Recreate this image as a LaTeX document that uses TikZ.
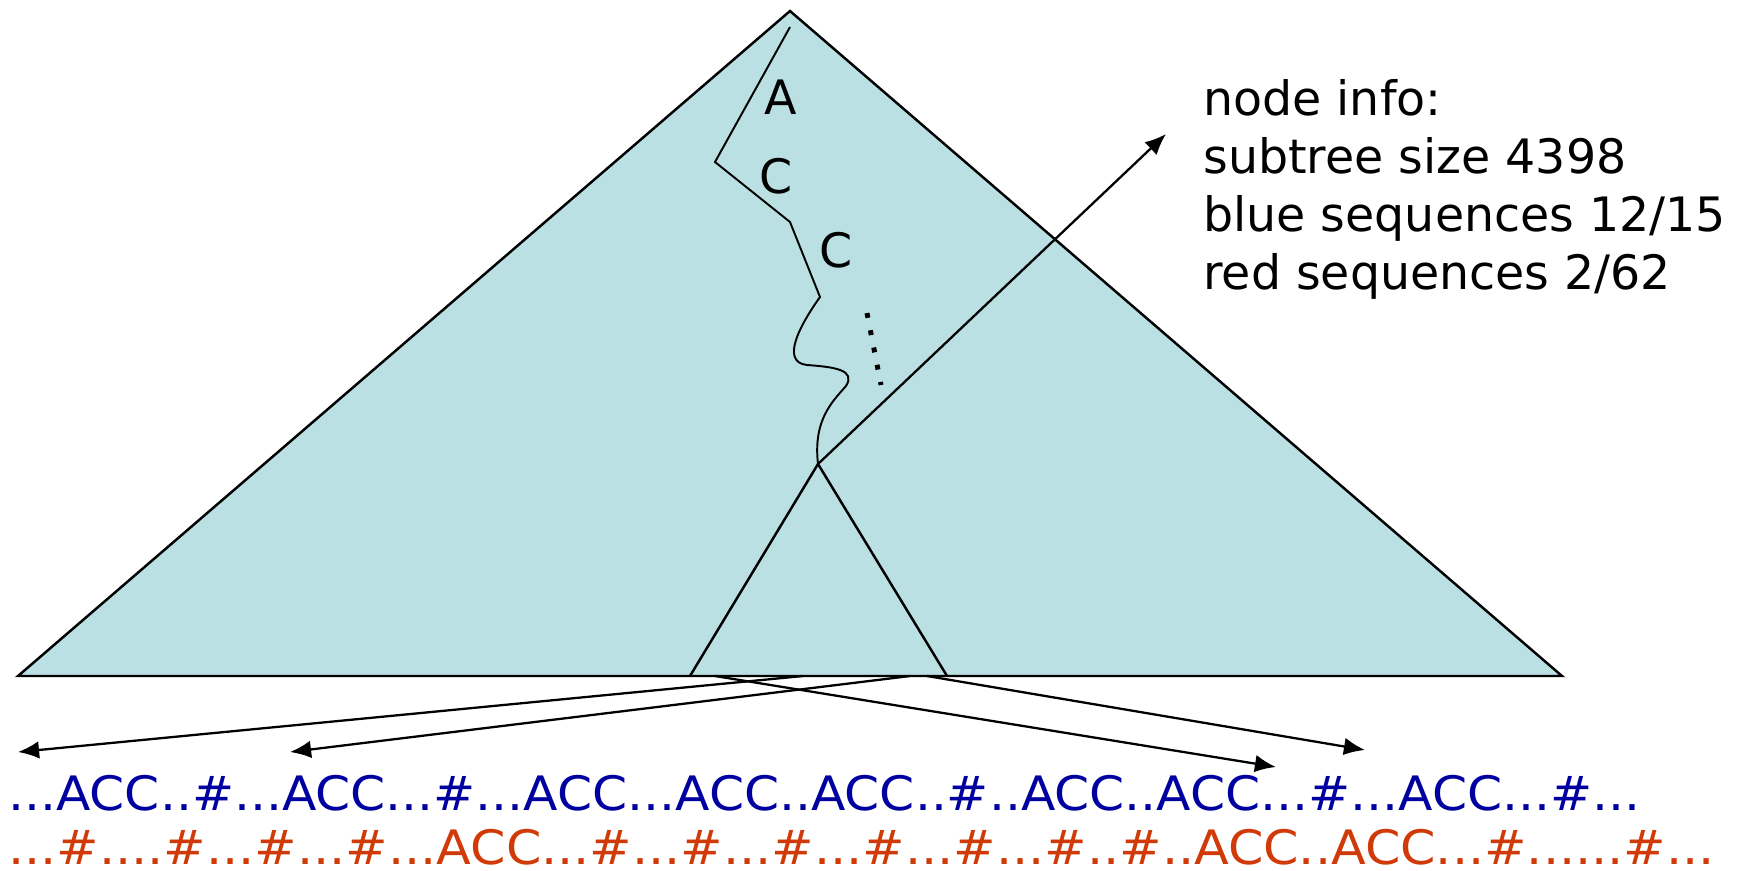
\documentclass[tikz,border=0pt]{standalone}
\usepackage{fontspec}
\setmainfont{DejaVu Sans}
\usetikzlibrary{arrows.meta, positioning}
\definecolor{treefill}{RGB}{186,224,227}
\definecolor{seqblue}{RGB}{0,0,160}
\definecolor{seqred}{RGB}{208,58,8}

\begin{document}
\begin{tikzpicture}[x=0.02cm, y=-0.02cm,
    tri/.style={draw=black, line width=1.4pt, line join=miter},
    walk/.style={line width=1.1pt, line join=miter},
    ptr/.style={line width=1.3pt, -{Latex[length=12pt, width=10pt]}},
    lbl/.style={font=\fontsize{27pt}{33pt}\selectfont, inner sep=0pt},
    seq/.style={font=\fontsize{27pt}{33pt}\selectfont, inner sep=0pt, anchor=base west}]
    \useasboundingbox (0,0) rectangle (1755,870);
    % suffix tree and one subtree
    \coordinate (root) at (790,11);
    \coordinate (bl) at (18,676);
    \coordinate (br) at (1562,676);
    \coordinate (sub) at (818,464);
    \coordinate (sl) at (690,676);
    \coordinate (sr) at (947,676);
    \filldraw[tri, fill=treefill] (root) -- (br) -- (bl) -- cycle;
    \draw[tri] (sl) -- (sub) -- (sr);
    % path from the root
    \draw[walk] (790,27) -- (715,162) -- (790,222) -- (820,297)
      .. controls (800,325) and (780,362) .. (807,365)
      .. controls (835,367) and (856,370) .. (846,386)
      .. controls (832,402) and (813,420) .. (sub);
    \node[lbl] (a1) at (781,97) {A};
    \node[lbl] (c1) at (776,176) {C};
    \node[lbl] (c2) at (836,250) {C};
    \draw[line width=2.8pt, dash pattern=on 2.8pt off 7.2pt] (867,313) -- (881,385);
    % node info
    \node[lbl, anchor=base west, align=left] (info) at (1203,289)
      {node info:\\subtree size 4398\\blue sequences 12/15\\red sequences 2/62};
    \coordinate (tip) at (1166,134);
    \draw[ptr] (sub) -- (tip);
    % sequences
    \node[seq, text=seqblue] (blue) at (8,810)
      {\scalebox{1.06}[1]{...ACC..\#...ACC...\#...ACC...ACC..ACC..\#..ACC..ACC...\#...ACC...\#...}};
    \node[seq, text=seqred] (red) at (8,864)
      {\scalebox{1.07}[1]{...\#....\#...\#...\#...ACC...\#...\#...\#...\#...\#...\#..\#..ACC..ACC...\#......\#...}};
    % leaves to occurrences
    \coordinate (s1) at (803,676);
    \coordinate (s2) at (910,676);
    \coordinate (s3) at (715,676);
    \coordinate (s4) at (927,676);
    \coordinate (e1) at (18,752);
    \coordinate (e2) at (290,752);
    \coordinate (e3) at (1276,767);
    \coordinate (e4) at (1365,750);
    \foreach \i in {1,...,4} {
      \draw[ptr] (s\i) -- (e\i);
    }
\end{tikzpicture}
\end{document}
